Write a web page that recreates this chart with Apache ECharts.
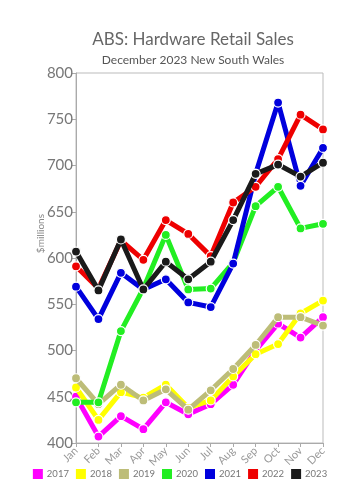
<!DOCTYPE html>
<html><head><meta charset="utf-8">
<script src="https://cdn.jsdelivr.net/npm/echarts@6/dist/echarts.min.js"></script>
<style>html,body{margin:0;padding:0;background:#fff}#c{width:360px;height:500px}</style>
</head><body><div id="c"></div>
<script>
var months = ['Jan','Feb','Mar','Apr','May','Jun','Jul','Aug','Sep','Oct','Nov','Dec'];
var years = ['2017','2018','2019','2020','2021','2022','2023'];
var colors = ['#ff00ff','#ffff00','#bdbd78','#22ee22','#0000dd','#ee0000','#1a1a1a'];
var s2017 = [450,407,429,415,444,431,442,463,500,529,514,536];
var s2018 = [460,425,455,449,463,438,446,472,496,507,540,554];
var s2019 = [470,442,463,446,458,436,457,480,506,536,536,527];
var s2020 = [444,444,521,567,625,566,567,595,656,677,632,637];
var s2021 = [569,534,584,566,577,552,547,594,691,768,678,719];
var s2022 = [591,567,619,598,641,626,602,660,677,707,755,739];
var s2023 = [607,565,620,566,596,577,596,641,691,701,688,703];
var allSeries = [s2017,s2018,s2019,s2020,s2021,s2022,s2023];

var chart = echarts.init(document.getElementById('c'), null, {renderer:'canvas'});
var series = years.map(function(y,i){
  return {
    name: y, type: 'line', data: allSeries[i],
    symbol: 'circle', symbolSize: 9,
    lineStyle: {width: 5, color: colors[i]},
    itemStyle: {color: colors[i], borderColor: '#ffffff', borderWidth: 1.2},
    z: 2 + i
  };
});
chart.setOption({
  animation: false,
  backgroundColor: '#ffffff',
  color: colors,
  title: [{
    text: 'ABS: Hardware Retail Sales',
    subtext: 'December 2023 New South Wales',
    left: 188, top: 26, textAlign: 'center',
    itemGap: 6,
    textStyle: {fontFamily: 'Lato', fontSize: 17, fontWeight: 'normal', color: '#666'},
    subtextStyle: {fontFamily: 'Lato', fontSize: 12, color: '#555'}
  }],
  grid: {left: 76, right: 37, top: 73, bottom: 57, show: true, borderColor: '#bbb', borderWidth: 1},
  legend: {
    top: 464, left: 'center', width: 340,
    itemWidth: 10, itemHeight: 10, itemGap: 7,
    icon: 'rect',
    textStyle: {fontFamily: 'Lato', fontSize: 9.5, color: '#777', padding: [0,0,0,-1]},
    data: years.map(function(y,i){return {name:y, itemStyle:{color:colors[i], borderWidth:0}};})
  },
  xAxis: {
    type: 'category', data: months, boundaryGap: false,
    axisLine: {lineStyle: {color: '#aaa'}},
    axisTick: {show: true, alignWithLabel: true, length: 4, lineStyle: {color: '#aaa'}},
    axisLabel: {rotate: 45, fontFamily: 'Lato', fontSize: 11, color: '#999', margin: 6, interval: 0},
    splitLine: {show: false}
  },
  yAxis: {
    type: 'value', min: 400, max: 800, interval: 50,
    axisLine: {show: true, lineStyle: {color: '#aaa'}},
    axisTick: {show: true, length: 4, lineStyle: {color: '#aaa'}},
    axisLabel: {fontFamily: 'Lato', fontSize: 15, color: '#777', margin: 3},
    splitLine: {show: false}
  },
  graphic: [{
    type: 'text', left: 36, top: 214, rotation: Math.PI/2,
    style: {text: '$millions', fontFamily: 'Lato', fontSize: 10, fill: '#888'}
  }],
  series: series
});
</script></body></html>
